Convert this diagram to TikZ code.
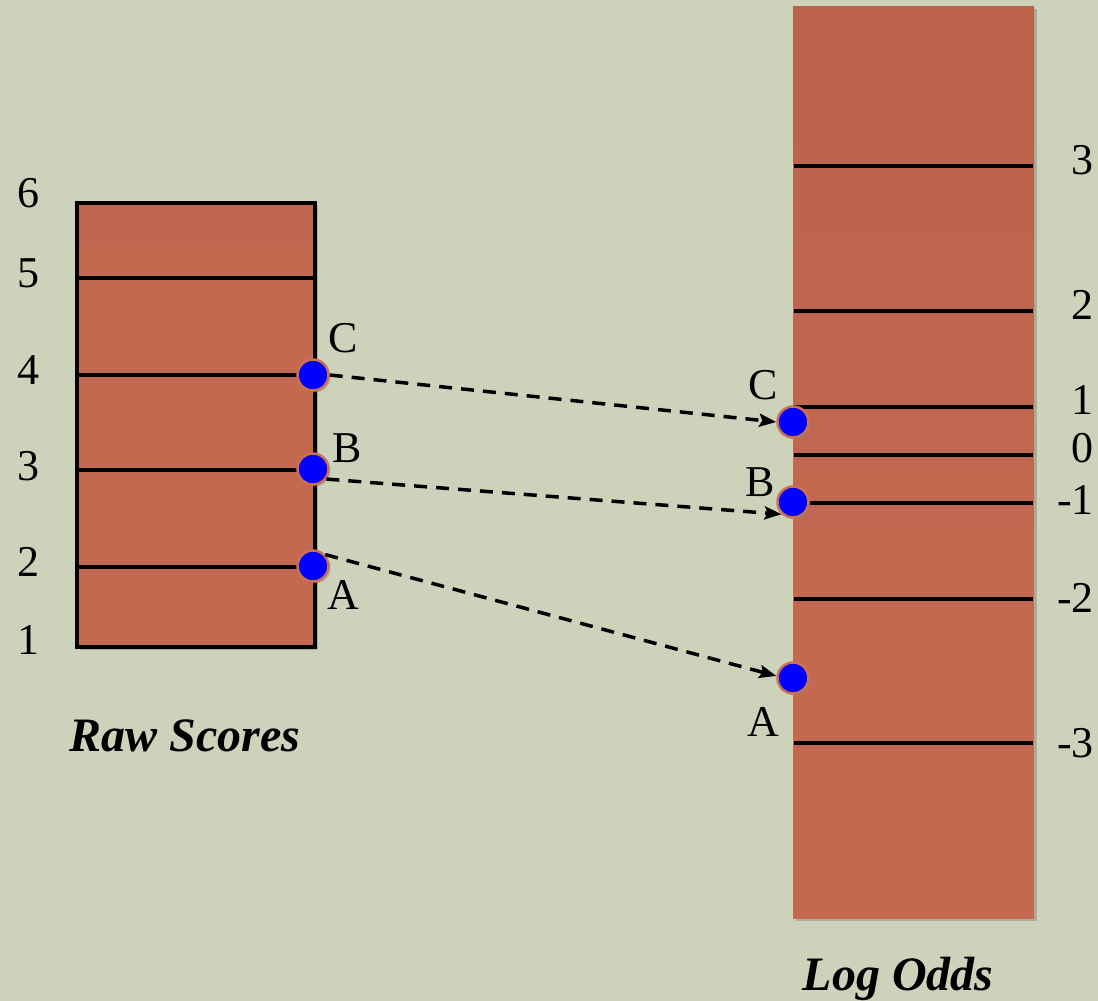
\documentclass[tikz,border=0pt]{standalone}
\usepackage{fontspec}
\setmainfont{Liberation Serif}
\usetikzlibrary{arrows.meta,shadows}

\definecolor{paper}{RGB}{205,211,187}
\definecolor{barred}{RGB}{196,104,80}
\definecolor{bartop}{RGB}{186,98,74}
\definecolor{dotrim}{RGB}{204,112,82}

% darker band at the top of each bar
\pgfdeclareverticalshading{barfade}{100bp}{color(0bp)=(barred); color(45bp)=(barred); color(75bp)=(bartop); color(100bp)=(bartop)}
\pgfdeclareverticalshading{rawfade}{100bp}{color(0bp)=(barred); color(68bp)=(barred); color(75bp)=(bartop!60!barred); color(100bp)=(bartop!60!barred)}

\begin{document}
\begin{tikzpicture}[x=1pt, y=-1pt,
    bar/.style={rectangle, anchor=north west, inner sep=0pt, shading=barfade,
      drop shadow={opacity=.45, shadow xshift=3pt, shadow yshift=-3pt}},
    tick/.style={line width=3.5pt},
    pt/.style={circle, fill=blue, draw=dotrim, line width=2.5pt, minimum size=31pt, inner sep=0pt,
      drop shadow={opacity=.4, shadow xshift=2pt, shadow yshift=-2pt}},
    map/.style={line width=3.5pt, dash pattern=on 13pt off 9pt, -{Stealth[length=17pt,width=13pt,inset=3pt]}},
    num/.style={font=\fontsize{44}{50}\selectfont, inner sep=0pt},
    title/.style={font=\fontsize{48}{56}\selectfont\bfseries\itshape, inner sep=0pt}]

  \fill[paper] (0,0) rectangle (1098,1001);
  \useasboundingbox (0,0) rectangle (1098,1001);

  % the two scales
  \node[bar, shading=rawfade, draw=black, line width=3.5pt, minimum width=238pt, minimum height=444pt] (raw) at (75,201) {};
  \node[bar, minimum width=241pt, minimum height=912pt] (logit) at (793,6) {};

  \foreach \y in {278,375,470,567}
    \draw[tick] (75,\y) -- (313,\y);
  \foreach \y in {166,311,407,455,503,599,743}
    \draw[tick] (794,\y) -- (1033,\y);

  \foreach \n/\y in {6/193,5/273,4/370,3/466,2/562,1/640}
    \node[num] (rawnum\n) at (28,\y) {\n};
  \foreach \n/\y [count=\i] in {3/160,2/305,1/400,0/448,-1/500,-2/598,-3/743}
    \node[num, anchor=east] (lognum\i) at (1094,\y) {\n};

  % persons on both scales
  \node[pt] (rawC) at (313,375) {};
  \node[pt] (rawB) at (313,469) {};
  \node[pt] (rawA) at (313,566) {};
  \node[pt] (logC) at (793,422) {};
  \node[pt] (logB) at (793,502) {};
  \node[pt] (logA) at (793,678) {};

  \node[num] (rawClab) at (343,338) {C};
  \node[num] (rawBlab) at (347,448) {B};
  \node[num] (rawAlab) at (343,595) {A};
  \node[num] (logClab) at (763,385) {C};
  \node[num] (logBlab) at (760,482) {B};
  \node[num] (logAlab) at (763,722) {A};

  \draw[map] (rawC.east) -- (logC.west);
  \draw[map] (rawB.-37) -- (logB.227);
  \draw[map] (rawA.43) -- (logA.173);

  \node[title, anchor=base] (rawtitle) at (185,751) {Raw Scores};
  \node[title, anchor=base] (logtitle) at (898,990) {Log Odds};
\end{tikzpicture}
\end{document}
